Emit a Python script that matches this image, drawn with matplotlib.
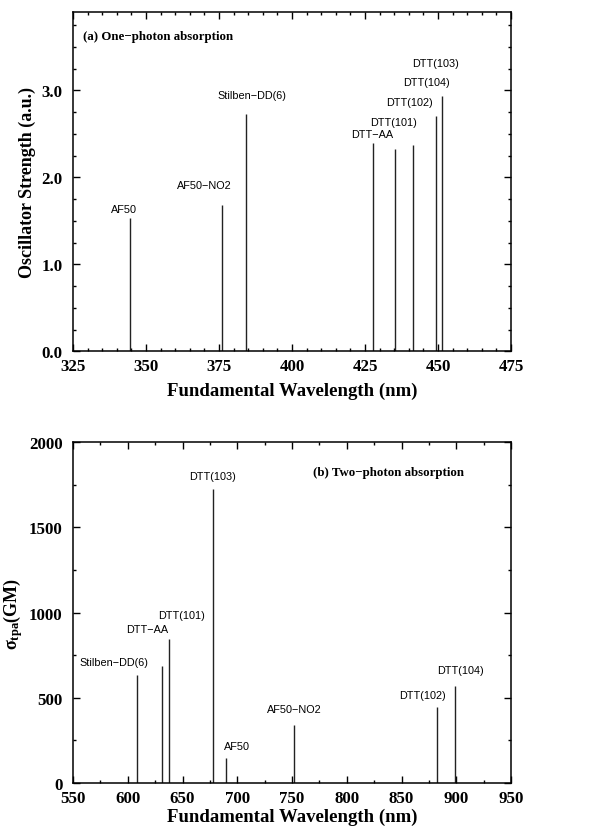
import matplotlib
matplotlib.use("Agg")
import matplotlib.pyplot as plt
from matplotlib.ticker import MultipleLocator, FormatStrFormatter

plt.rcParams['mathtext.fontset'] = 'custom'
plt.rcParams['mathtext.rm'] = 'Liberation Serif:bold'
plt.rcParams['mathtext.it'] = 'Liberation Serif:italic:bold'

# (a) One-photon absorption
opa_names = ["AF50", "AF50−NO2", "Stilben−DD(6)", "DTT−AA", "DTT(101)", "DTT(102)", "DTT(104)", "DTT(103)"]
opa_wavelength = [344.6, 375.9, 384.2, 427.7, 435.3, 441.4, 449.4, 451.2]
opa_strength = [1.53, 1.68, 2.73, 2.40, 2.32, 2.37, 2.70, 2.93]
opa_label_x = [342.4, 369.9, 386.4, 427.5, 434.9, 440.2, 446.1, 449.0]
opa_label_y = [1.64, 1.91, 2.95, 2.50, 2.64, 2.87, 3.10, 3.31]

# (b) Two-photon absorption
tpa_names = ["Stilben−DD(6)", "DTT−AA", "DTT(101)", "DTT(103)", "AF50", "AF50−NO2", "DTT(102)", "DTT(104)"]
tpa_wavelength = [608.2, 631.3, 638.0, 677.9, 689.4, 751.5, 882.7, 898.6]
tpa_sigma = [636, 689, 843, 1726, 145, 342, 446, 569]
tpa_label_x = [587.4, 617.9, 648.9, 677.2, 700.1, 752.5, 868.7, 903.7]
tpa_label_y = [712, 904, 984, 1800, 215, 434, 515, 661]

serif = "Liberation Serif"
sans = "Liberation Sans"

fig = plt.figure(figsize=(6.02, 8.29), dpi=100)
ax1 = fig.add_axes([0.1213, 0.575, 0.7276, 0.4093])
ax2 = fig.add_axes([0.1213, 0.0543, 0.7276, 0.4110])


def style(ax):
    for s in ax.spines.values():
        s.set_linewidth(1.1)
    ax.tick_params(which='both', direction='in', top=True, right=True, width=1.0)
    ax.tick_params(which='major', length=5, labelsize=12.2)
    ax.tick_params(axis='x', which='major', pad=5)
    ax.tick_params(axis='y', which='major', pad=7.5)
    ax.tick_params(which='minor', length=2.5)
    for lab in ax.get_xticklabels() + ax.get_yticklabels():
        lab.set_fontfamily(serif)
        lab.set_fontweight('bold')


ax1.vlines(opa_wavelength, 0, opa_strength, colors='#222222', linewidth=1.0)
for n, x, y in zip(opa_names, opa_label_x, opa_label_y):
    ax1.text(x, y, n, ha='center', va='center', fontsize=7.8, family=sans)
ax1.set_xlim(325, 475)
ax1.set_ylim(0, 3.9)
ax1.xaxis.set_major_locator(MultipleLocator(25))
ax1.xaxis.set_minor_locator(MultipleLocator(5))
ax1.yaxis.set_major_locator(MultipleLocator(1.0))
ax1.yaxis.set_minor_locator(MultipleLocator(0.25))
ax1.yaxis.set_major_formatter(FormatStrFormatter('%.1f'))
style(ax1)
ax1.set_xlabel("Fundamental Wavelength (nm)", family=serif, fontweight='bold', fontsize=13.5, labelpad=5)
ax1.set_ylabel("Oscillator Strength (a.u.)", family=serif, fontweight='bold', fontsize=13, labelpad=4)
ax1.text(0.0235, 0.928, "(a) One−photon absorption", transform=ax1.transAxes,
         ha='left', va='center', family=serif, fontweight='bold', fontsize=9.3)

ax2.vlines(tpa_wavelength, 0, tpa_sigma, colors='#222222', linewidth=1.0)
for n, x, y in zip(tpa_names, tpa_label_x, tpa_label_y):
    ax2.text(x, y, n, ha='center', va='center', fontsize=7.8, family=sans)
ax2.set_xlim(550, 950)
ax2.set_ylim(0, 2000)
ax2.xaxis.set_major_locator(MultipleLocator(50))
ax2.xaxis.set_minor_locator(MultipleLocator(25))
ax2.yaxis.set_major_locator(MultipleLocator(500))
ax2.yaxis.set_minor_locator(MultipleLocator(250))
style(ax2)
ax2.set_xlabel("Fundamental Wavelength (nm)", family=serif, fontweight='bold', fontsize=13.5, labelpad=1)
ax2.set_ylabel(r"σ$_{\rm tpa}$(GM)", family=serif, fontweight='bold', fontsize=13, labelpad=3)
ax2.text(0.72, 0.912, "(b) Two−photon absorption", transform=ax2.transAxes,
         ha='center', va='center', family=serif, fontweight='bold', fontsize=9.3)

fig.savefig("out.png", dpi=100)
